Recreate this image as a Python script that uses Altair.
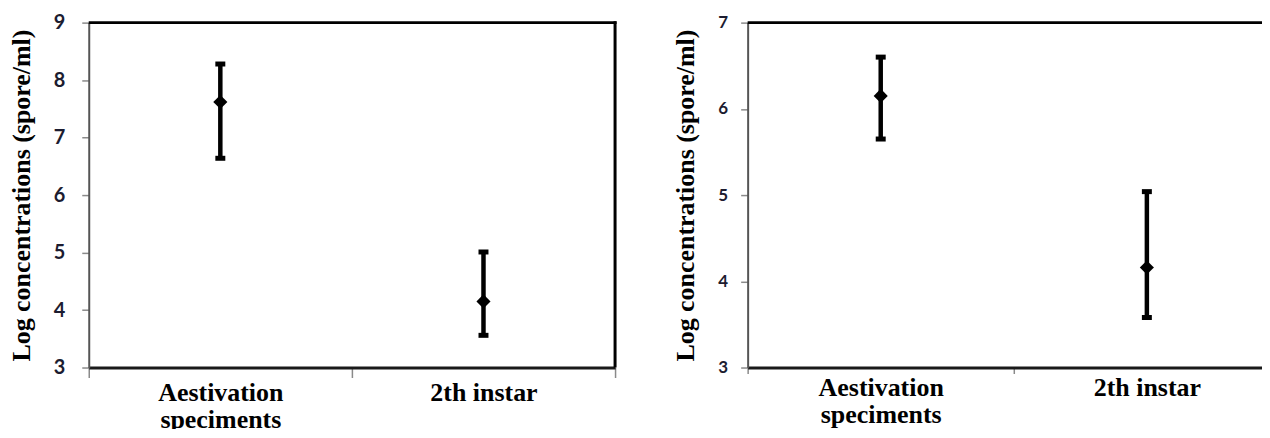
import altair as alt
import pandas as pd

categories = ["Aestivation speciments", "2th instar"]

left_mean = [7.62, 4.15]
left_upper = [8.28, 5.01]
left_lower = [6.64, 3.56]
left_ticks = [3, 4, 5, 6, 7, 8, 9]

right_mean = [6.15, 4.16]
right_upper = [6.60, 5.04]
right_lower = [5.65, 3.58]
right_ticks = [3, 4, 5, 6, 7]

TITLE = "Log concentrations (spore/ml)"


def panel(mean, upper, lower, ticks, W, H, lab_size, title_size, title_pad,
          ylab_pad, xtick, xlab_pad, right_border=True):
    df = pd.DataFrame({"cat": categories, "mean": mean,
                       "upper": upper, "lower": lower})
    base = alt.Chart(df)
    x = alt.X(
        "cat:N", sort=categories, title=None,
        scale=alt.Scale(paddingInner=0, paddingOuter=0),
        axis=alt.Axis(
            tickBand="extent", labelAngle=0,
            labelFont="Liberation Serif", labelFontWeight="bold",
            labelFontSize=26, labelColor="black", labelLineHeight=27,
            labelExpr="length(datum.label) > 12 ? split(datum.label, ' ') : datum.label",
            domainColor="#1a1a1a", domainWidth=3,
            tickColor="#8a8a8a", tickWidth=1.5, tickSize=xtick,
            labelPadding=xlab_pad, grid=False,
        ),
    )
    yscale = alt.Scale(domain=[ticks[0], ticks[-1]], nice=False, zero=False)
    yaxis = alt.Axis(
        values=ticks, format="d", title=TITLE,
        titleFont="Liberation Serif", titleFontWeight="bold",
        titleFontSize=title_size, titleColor="black", titlePadding=title_pad,
        labelFont="Lato", labelFontWeight="bold", labelFontSize=lab_size,
        labelColor="#1c1c30", labelPadding=ylab_pad,
        domainColor="#555555", domainWidth=2,
        tickColor="#8a8a8a", tickWidth=1.5, tickSize=7, grid=False,
    )
    bar = base.mark_rule(color="black", strokeWidth=4.5).encode(
        x=x, y=alt.Y("lower:Q", scale=yscale, axis=yaxis), y2="upper:Q")
    cap_hi = base.mark_tick(color="black", thickness=5, size=10, opacity=1).encode(
        x=x, y=alt.Y("upper:Q", scale=yscale))
    cap_lo = base.mark_tick(color="black", thickness=5, size=10, opacity=1).encode(
        x=x, y=alt.Y("lower:Q", scale=yscale))
    pt = base.mark_point(shape="diamond", filled=True, size=200,
                         color="black", opacity=1).encode(
        x=x, y=alt.Y("mean:Q", scale=yscale))
    top = alt.Chart(pd.DataFrame({"k": [0]})).mark_rule(
        color="black", strokeWidth=3).encode(
        x=alt.value(0), x2=alt.value(W + 1.5), y=alt.value(0))
    layers = [top, bar, cap_hi, cap_lo, pt]
    if right_border:
        rb = alt.Chart(pd.DataFrame({"k": [0]})).mark_rule(
            color="black", strokeWidth=3).encode(
            x=alt.value(W), y=alt.value(-1.5), y2=alt.value(H))
        layers.insert(1, rb)
    return alt.layer(*layers).properties(width=W, height=H)


left = panel(left_mean, left_upper, left_lower, left_ticks, 528, 346,
             20, 26, 19, 17, 10, 2)
right = panel(right_mean, right_upper, right_lower, right_ticks, 534, 346,
              17, 26, 19, 13, 6, 1, right_border=False)

chart = alt.hconcat(left, right, spacing=55).properties(
    padding={"left": 0, "top": 4, "right": -21, "bottom": -4}
).configure_view(strokeWidth=0)

chart.save("out.html", embed_options={"renderer": "svg", "actions": False})
